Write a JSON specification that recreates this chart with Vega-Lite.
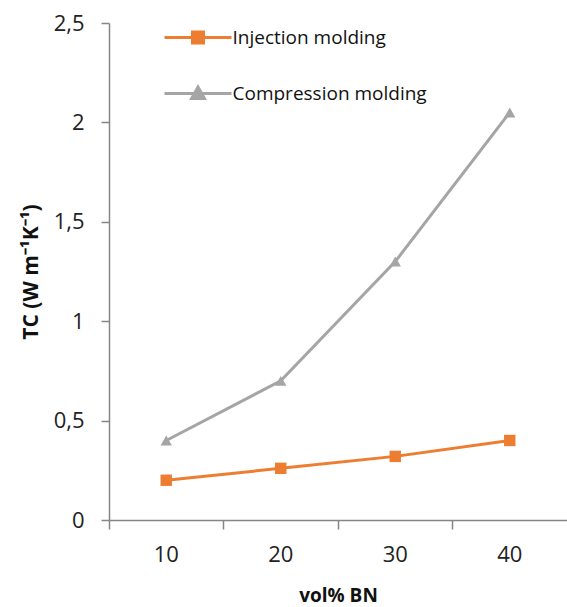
{
  "$schema": "https://vega.github.io/schema/vega-lite/v6.json",
  "autosize": "none",
  "width": 458,
  "height": 497,
  "padding": {"left": 109, "top": 23, "right": 0, "bottom": 87},
  "background": "white",
  "config": {
    "font": "Open Sans",
    "view": {"stroke": null},
    "axis": {"grid": false, "domainColor": "#868686", "tickColor": "#868686", "domainWidth": 1.5, "tickWidth": 1.5, "labelColor": "#222222", "titleColor": "#111111", "labelFontSize": 22, "titleFontSize": 19, "titleFontWeight": "bold", "labelFont": "Open Sans", "titleFont": "Open Sans"}
  },
  "data": {
    "values": [
      {"vol": "10", "series": "Injection molding", "tc": 0.20},
      {"vol": "20", "series": "Injection molding", "tc": 0.26},
      {"vol": "30", "series": "Injection molding", "tc": 0.32},
      {"vol": "40", "series": "Injection molding", "tc": 0.40},
      {"vol": "10", "series": "Compression molding", "tc": 0.40},
      {"vol": "20", "series": "Compression molding", "tc": 0.70},
      {"vol": "30", "series": "Compression molding", "tc": 1.30},
      {"vol": "40", "series": "Compression molding", "tc": 2.05}
    ]
  },
  "encoding": {
    "x": {"field": "vol", "type": "ordinal", "sort": ["10", "20", "30", "40"],
      "scale": {"type": "band", "paddingInner": 0, "paddingOuter": 0},
      "axis": {"title": "vol% BN", "labelAngle": 0, "bandPosition": 0, "tickSize": 9, "labelPadding": 15, "titlePadding": 21, "labelBound": false, "labelOverlap": false}},
    "y": {"field": "tc", "type": "quantitative",
      "scale": {"domain": [0, 2.5], "nice": false, "zero": true},
      "axis": {"title": "TC (W m⁻¹K⁻¹)", "titleFontSize": 21, "values": [0, 0.5, 1, 1.5, 2, 2.5], "format": ".1~f", "labelExpr": "replace(datum.label, '.', ',')", "tickSize": 8, "labelPadding": 17, "titlePadding": 12}},
    "color": {"field": "series", "type": "nominal",
      "sort": ["Injection molding", "Compression molding"],
      "scale": {"domain": ["Injection molding", "Compression molding"], "range": ["#ED7D31", "#A5A5A5"]}}
  },
  "layer": [
    {
      "mark": {"type": "line", "strokeWidth": 3},
      "encoding": {
        "color": {"field": "series", "type": "nominal",
          "sort": ["Injection molding", "Compression molding"],
          "legend": {
            "title": null, "orient": "none", "legendX": 67.5, "legendY": -7,
            "padding": 0, "rowPadding": 23, "symbolSize": 1600, "labelOffset": 13, "labelLimit": 400,
            "labelFontSize": 19, "labelFont": "Open Sans", "labelColor": "#111111",
            "encode": {"symbols": {"update": {
              "shape": {"signal": "datum.value == 'Injection molding' ? 'M-1.675,0H1.675M-0.275,-0.275H0.275V0.275H-0.275Z' : 'M-1.675,0H1.675M0,-0.32L0.32,0.25H-0.32Z'"},
              "fill": {"scale": "color", "field": "value"},
              "stroke": {"scale": "color", "field": "value"},
              "strokeWidth": {"value": 3},
              "size": {"value": 1600},
              "opacity": {"value": 1}
            }}}
          }}
      }
    },
    {
      "transform": [{"filter": "datum.series == 'Injection molding'"}],
      "mark": {"type": "point", "filled": true, "opacity": 1, "shape": "square", "size": 130}
    },
    {
      "transform": [{"filter": "datum.series == 'Compression molding'"}],
      "mark": {"type": "point", "filled": true, "opacity": 1, "shape": "triangle-up", "size": 130}
    }
  ]
}
